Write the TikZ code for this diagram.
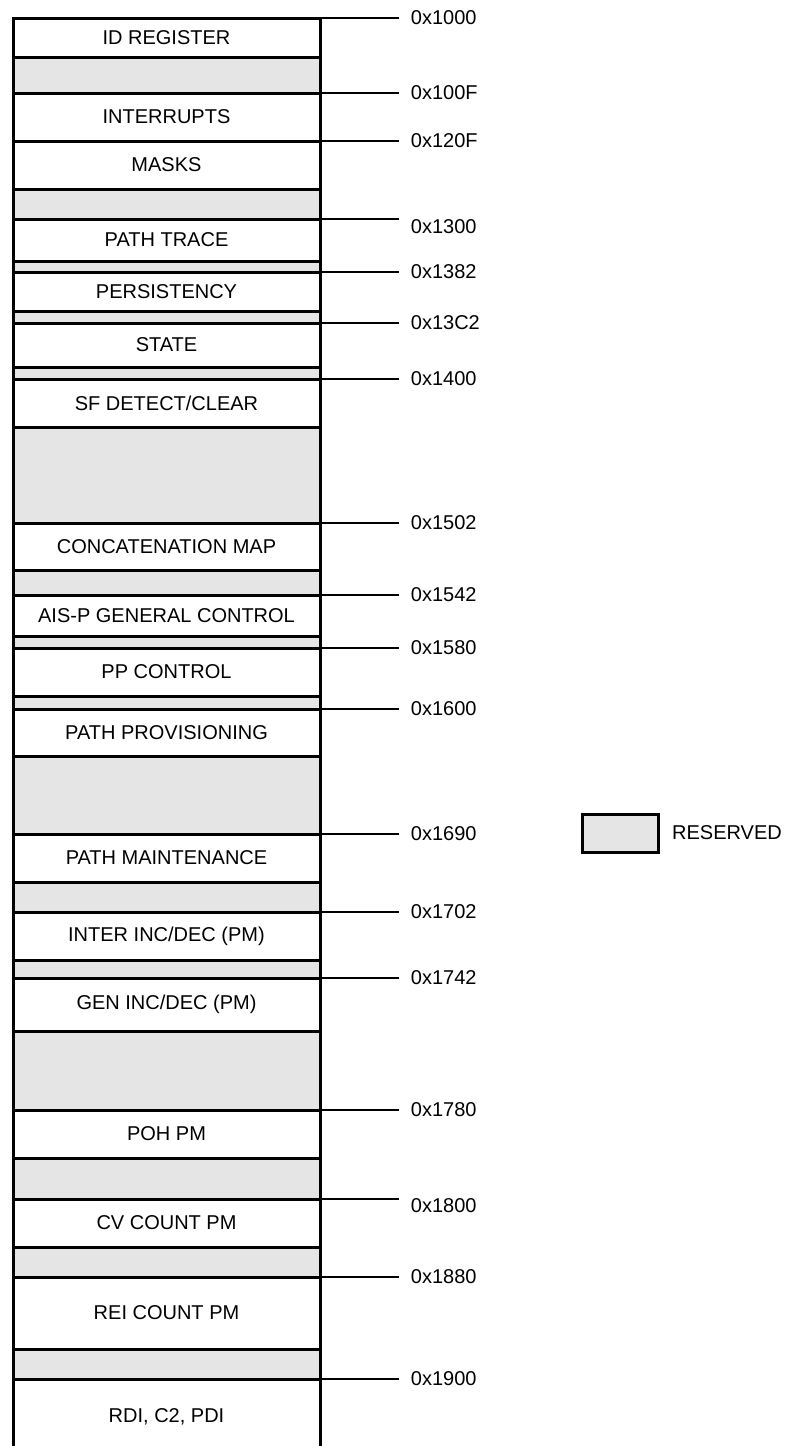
\documentclass[tikz,border=0pt]{standalone}
\usepackage{fontspec}
\setmainfont{Liberation Sans}
\usetikzlibrary{positioning}
\definecolor{resgray}{gray}{0.9}

\tikzset{
  regbox/.style={draw, line width=3pt, minimum width=307pt, inner sep=0pt, outer sep=0pt, fill=white},
  resbox/.style={regbox, fill=resgray},
  lead/.style={line width=1.8pt},
  addr/.style={anchor=west, inner sep=0pt, xshift=11pt},
}

\begin{document}
\begin{tikzpicture}[x=1pt, y=-1pt, font=\fontsize{20}{24}\selectfont]
\useasboundingbox (0,0) rectangle (791,1446);

% register blocks, top to bottom
\node[regbox, minimum height=39pt] (id) at (166.5,37.5) {ID REGISTER};
\node[resbox, minimum height=36pt] (r1) at (166.5,75) {};
\node[regbox, minimum height=48pt] (intr) at (166.5,117) {INTERRUPTS};
\node[regbox, minimum height=48pt] (masks) at (166.5,165) {MASKS};
\node[resbox, minimum height=30pt] (r2) at (166.5,204) {};
\node[regbox, minimum height=42pt] (trace) at (166.5,240) {PATH TRACE};
\node[resbox, minimum height=11pt] (r3) at (166.5,266.5) {};
\node[regbox, minimum height=39pt] (pers) at (166.5,291.5) {PERSISTENCY};
\node[resbox, minimum height=12pt] (r4) at (166.5,317) {};
\node[regbox, minimum height=44pt] (state) at (166.5,345) {STATE};
\node[resbox, minimum height=12pt] (r5) at (166.5,373) {};
\node[regbox, minimum height=48pt] (sfdet) at (166.5,403) {SF DETECT/CLEAR};
\node[resbox, minimum height=96pt] (r6) at (166.5,475) {};
\node[regbox, minimum height=47pt] (concat) at (166.5,546.5) {CONCATENATION MAP};
\node[resbox, minimum height=25pt] (r7) at (166.5,582.5) {};
\node[regbox, minimum height=41pt] (aisp) at (166.5,615.5) {AIS-P GENERAL CONTROL};
\node[resbox, minimum height=12pt] (r8) at (166.5,642) {};
\node[regbox, minimum height=48pt] (ppctl) at (166.5,672) {PP CONTROL};
\node[resbox, minimum height=13pt] (r9) at (166.5,702.5) {};
\node[regbox, minimum height=47pt] (prov) at (166.5,732.5) {PATH PROVISIONING};
\node[resbox, minimum height=78pt] (r10) at (166.5,795) {};
\node[regbox, minimum height=48pt] (maint) at (166.5,858) {PATH MAINTENANCE};
\node[resbox, minimum height=30pt] (r11) at (166.5,897) {};
\node[regbox, minimum height=48pt] (inter) at (166.5,936) {INTER INC/DEC (PM)};
\node[resbox, minimum height=18pt] (r12) at (166.5,969) {};
\node[regbox, minimum height=53pt] (gen) at (166.5,1004.5) {GEN INC/DEC (PM)};
\node[resbox, minimum height=79pt] (r13) at (166.5,1070.5) {};
\node[regbox, minimum height=48pt] (poh) at (166.5,1134) {POH PM};
\node[resbox, minimum height=41pt] (r14) at (166.5,1178.5) {};
\node[regbox, minimum height=48pt] (cv) at (166.5,1223) {CV COUNT PM};
\node[resbox, minimum height=30pt] (r15) at (166.5,1262) {};
\node[regbox, minimum height=72pt] (rei) at (166.5,1313) {REI COUNT PM};
\node[resbox, minimum height=30pt] (r16) at (166.5,1364) {};
% last block runs off the bottom: sides only
\node[regbox, draw=none, fill=none, minimum height=76pt] (rdi) at (166.5,1417) {RDI, C2, PDI};
\draw[line width=3pt] (rdi.north west) -- (rdi.south west);
\draw[line width=3pt] (rdi.north east) -- (rdi.south east);

% address leaders
\coordinate (tick) at (399,0);
\draw[lead] (id.north east) -- (id.north east -| tick) node[addr] {0x1000};
\draw[lead] (intr.north east) -- (intr.north east -| tick) node[addr] {0x100F};
\draw[lead] (masks.north east) -- (masks.north east -| tick) node[addr] {0x120F};
\draw[lead] (trace.north east) -- (trace.north east -| tick) node[addr, yshift=-8pt] {0x1300};
\draw[lead] (pers.north east) -- (pers.north east -| tick) node[addr] {0x1382};
\draw[lead] (state.north east) -- (state.north east -| tick) node[addr] {0x13C2};
\draw[lead] (sfdet.north east) -- (sfdet.north east -| tick) node[addr] {0x1400};
\draw[lead] (concat.north east) -- (concat.north east -| tick) node[addr] {0x1502};
\draw[lead] (aisp.north east) -- (aisp.north east -| tick) node[addr] {0x1542};
\draw[lead] (ppctl.north east) -- (ppctl.north east -| tick) node[addr] {0x1580};
\draw[lead] (prov.north east) -- (prov.north east -| tick) node[addr] {0x1600};
\draw[lead] (maint.north east) -- (maint.north east -| tick) node[addr] {0x1690};
\draw[lead] (inter.north east) -- (inter.north east -| tick) node[addr] {0x1702};
\draw[lead] (gen.north east) -- (gen.north east -| tick) node[addr] {0x1742};
\draw[lead] (poh.north east) -- (poh.north east -| tick) node[addr] {0x1780};
\draw[lead] (cv.north east) -- (cv.north east -| tick) node[addr, yshift=-7pt] {0x1800};
\draw[lead] (rei.north east) -- (rei.north east -| tick) node[addr] {0x1880};
\draw[lead] (rdi.north east) -- (rdi.north east -| tick) node[addr] {0x1900};

% legend
\node[resbox, minimum width=76pt, minimum height=38pt] (key) at (620,833) {};
\node[right=14pt of key, inner sep=0pt] (keytext) {RESERVED};
\end{tikzpicture}
\end{document}
